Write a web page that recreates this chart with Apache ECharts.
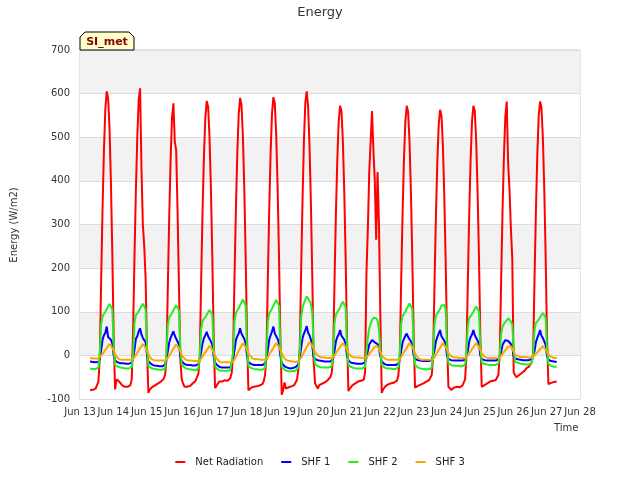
<!DOCTYPE html>
<html><head><meta charset="utf-8">
<script src="https://cdn.jsdelivr.net/npm/echarts@6/dist/echarts.min.js"></script>
<style>html,body{margin:0;padding:0;background:#fff}#c{width:640px;height:480px}</style>
</head><body><div id="c"></div>
<script>
const seriesNames = ['Net Radiation', 'SHF 1', 'SHF 2', 'SHF 3'];
const seriesColors = ['#ff0000', '#0000ff', '#22ee22', '#ffa500'];
const yTicks = [-100, 0, 100, 200, 300, 400, 500, 600, 700];
const xStartDay = Date.UTC(2020, 5, 13);
const xEndDay = Date.UTC(2020, 5, 28);
const dataStart = Date.UTC(2020, 5, 13, 7, 15);
const stepMs = 3600000; // hourly samples, rows below run 07:00 -> 06:00

const netRadiation = [
-80,-79,-79,-78,-76,-72,-60, -5,175,340,472,565,605,590,520,398,238,40, -78,-55,-52,-60,-64,-68,
-72,-72,-73,-72,-70,-68,-55, 60,230,380,500,585,612,430,300,250,175,10, -86,-78,-74,-72,-70,-68,
-66,-64,-62,-60,-57,-54,-45, -10,160,320,450,545,578,490,470,330,160,-10, -55,-65,-72,-70,-72,-68,
-70,-66,-64,-62,-58,-55,-42, 0,175,332,458,545,583,570,500,385,228,40, -75,-72,-65,-60,-62,-60,
-58,-57,-56,-58,-55,-52,-40, 5,180,335,462,552,590,575,505,388,230,42, -80,-78,-74,-72,-72,-72,
-71,-70,-69,-68,-66,-60,-45, 0,178,336,465,555,592,578,508,390,232,44, -90,-80,-62,-76,-75,-73,
-72,-71,-70,-68,-62,-56,-30, 20,200,360,495,580,605,570,480,350,180,-15, -64,-70,-76,-68,-66,-65,
-64,-62,-60,-57,-54,-50,-40, -5,170,325,448,535,572,560,492,378,225,40, -82,-76,-72,-68,-65,-64,
-62,-60,-60,-58,-57,-56,-40, 190,290,420,490,560,470,400,265,420,300,90, -86,-78,-74,-70,-68,-66,
-65,-64,-64,-62,-60,-58,-45, 0,172,326,450,536,572,558,490,376,224,42, -74,-72,-70,-68,-67,-66,
-64,-62,-60,-58,-57,-56,-45, -5,165,318,442,528,563,550,484,370,220,40, -72,-75,-79,-77,-74,-73,
-72,-72,-73,-72,-70,-68,-55, 0,170,325,450,537,572,560,492,378,226,42, -72,-70,-68,-66,-64,-62,
-60,-60,-58,-57,-57,-56,-45, 5,178,335,460,548,582,440,380,290,220,-40, -45,-50,-48,-45,-42,-40,
-38,-35,-30,-28,-26,-25,-15, 0,175,330,458,548,582,568,500,385,230,42, -66,-64,-63,-62,-61,-60,
-60
];

const shf1 = [
-14,-15,-15,-15,-16,-16,-15, -8,12,36,46,52,66,42,44,36,28,0, -12,-15,-16,-17,-18,-18,
-18,-19,-19,-19,-19,-19,-17, -6,14,38,44,55,62,48,40,35,30,2, -14,-18,-20,-22,-23,-24,
-24,-24,-25,-25,-25,-24,-21, -8,10,30,40,48,55,45,38,35,25,-2, -14,-18,-20,-21,-22,-22,
-22,-23,-23,-23,-23,-22,-20, -9,8,28,40,46,54,44,40,32,24,-3, -16,-21,-24,-26,-27,-28,
-28,-28,-28,-28,-28,-27,-24, -8,12,35,44,50,62,50,46,38,28,0, -15,-18,-20,-21,-22,-22,
-22,-22,-22,-22,-22,-21,-19, -8,12,36,46,55,66,50,44,38,28,0, -18,-22,-25,-27,-28,-29,
-30,-30,-29,-28,-27,-26,-20, -4,18,40,50,58,67,52,46,36,22,-5, -8,-10,-11,-12,-13,-13,
-13,-14,-14,-14,-14,-14,-12, -8,10,32,42,48,58,45,42,36,26,0, -12,-15,-17,-18,-18,-19,
-19,-19,-19,-19,-19,-18,-16, -5,10,25,30,35,39,30,28,26,18,-2, -14,-18,-20,-21,-22,-22,
-22,-22,-22,-22,-22,-21,-19, -7,10,30,38,45,50,42,38,32,24,0, -8,-10,-11,-12,-12,-13,
-13,-13,-13,-13,-13,-12,-10, -6,12,32,42,50,58,44,40,34,26,0, -8,-10,-11,-11,-12,-12,
-12,-12,-12,-12,-12,-12,-10, -7,10,32,42,48,58,46,42,34,26,0, -8,-10,-11,-11,-12,-12,
-12,-12,-12,-12,-12,-11,-9, -6,8,24,30,35,39,33,30,26,20,-2, -7,-8,-9,-10,-10,-11,
-11,-11,-11,-11,-11,-10,-8, -6,10,30,40,48,58,45,40,32,24,0, -10,-12,-13,-14,-14,-15,
-15
];

const shf2 = [
-30,-30,-31,-31,-31,-31,-28, 5,71,90,95,100,106,112,118,114,106,20, -22,-25,-26,-27,-28,-28,
-29,-29,-30,-30,-30,-30,-27, 8,75,92,96,101,107,113,118,113,105,18, -24,-27,-29,-30,-31,-32,
-32,-32,-33,-33,-33,-33,-30, 5,70,87,92,97,103,109,115,111,103,18, -22,-26,-28,-30,-31,-32,
-32,-33,-33,-33,-34,-34,-30, 3,62,79,83,88,93,99,104,100,93,15, -25,-30,-33,-34,-35,-35,
-35,-35,-35,-35,-35,-34,-31, 6,78,97,103,108,115,121,128,124,115,22, -24,-27,-29,-30,-31,-32,
-32,-32,-33,-33,-33,-32,-28, 6,77,96,102,107,114,120,127,123,114,22, -26,-30,-33,-35,-36,-37,
-37,-37,-36,-36,-35,-34,-28, 10,88,110,120,128,135,130,125,118,100,10, -20,-23,-25,-26,-27,-27,
-28,-28,-28,-28,-28,-27,-24, 5,74,93,99,104,110,117,123,119,110,20, -22,-25,-27,-28,-29,-29,
-30,-30,-30,-30,-30,-29,-26, 10,40,62,72,80,86,89,85,80,60,12, -22,-26,-28,-29,-30,-30,
-30,-31,-31,-31,-31,-30,-27, 5,72,90,95,100,107,113,119,115,107,20, -22,-26,-28,-29,-30,-31,
-31,-32,-32,-32,-32,-31,-28, 4,70,91,96,101,106,114,118,116,106,19, -18,-21,-22,-23,-24,-24,
-24,-25,-25,-25,-25,-24,-21, 5,68,85,90,95,100,106,112,108,100,18, -16,-18,-20,-21,-21,-22,
-22,-22,-22,-22,-22,-21,-18, 4,50,66,72,76,80,85,82,78,70,12, -14,-16,-17,-18,-19,-20,
-20,-20,-21,-21,-21,-20,-17, 4,58,74,78,82,87,92,97,94,87,16, -20,-23,-24,-25,-26,-26,
-26
];

const shf3 = [
-6,-6,-7,-7,-7,-7,-7, -6,-1,3,8,12,17,21,26,23,17,10, 3,-3,-7,-9,-10,-10,
-10,-10,-10,-10,-10,-10,-10, -9,-4,1,6,11,16,21,26,23,17,10, 3,-3,-8,-10,-11,-12,
-12,-12,-12,-12,-12,-12,-12, -11,-6,-1,4,10,15,20,25,22,16,9, 2,-4,-8,-10,-11,-12,
-12,-12,-13,-13,-13,-13,-13, -12,-7,-2,3,7,12,17,22,19,13,6, -1,-7,-11,-14,-15,-16,
-16,-16,-16,-16,-16,-16,-16, -15,-9,-3,3,10,16,22,28,25,19,12, 5,0,-4,-7,-8,-9,
-9,-9,-10,-10,-10,-10,-10, -9,-4,2,7,12,17,23,28,25,19,12, 5,-2,-7,-10,-12,-13,
-13,-14,-14,-15,-15,-14,-13, -11,-5,1,7,13,19,25,31,28,22,15, 8,3,0,-3,-4,-5,
-5,-5,-5,-6,-6,-6,-6, -5,0,5,9,14,19,23,28,25,19,12, 5,1,-2,-4,-5,-5,
-5,-5,-5,-6,-6,-6,-6, -5,-1,3,7,12,16,20,24,21,15,8, 1,-4,-7,-9,-10,-10,
-10,-10,-10,-10,-10,-10,-10, -9,-4,2,7,12,17,23,28,25,19,12, 5,-1,-5,-8,-9,-10,
-10,-10,-10,-10,-10,-10,-10, -9,-4,2,7,12,17,23,28,25,19,12, 5,1,-2,-4,-5,-5,
-5,-5,-6,-6,-6,-6,-6, -5,0,5,9,14,19,23,28,25,19,12, 5,0,-3,-5,-6,-6,
-6,-6,-6,-6,-6,-6,-6, -5,-1,3,7,12,16,20,24,21,15,8, 2,0,-2,-3,-4,-4,
-4,-4,-4,-4,-5,-5,-5, -4,0,3,7,10,14,17,21,19,14,8, 2,-1,-3,-5,-6,-6,
-6
];

const seriesValues = [netRadiation, shf1, shf2, shf3];
const monthNames = ['Jan','Feb','Mar','Apr','May','Jun','Jul','Aug','Sep','Oct','Nov','Dec'];
const FONT = 'DejaVu Sans';

function toPairs(arr) { return arr.map((v, i) => [dataStart + i * stepMs, v]); }

const chart = echarts.init(document.getElementById('c'), null, { renderer: 'canvas' });
chart.setOption({
  animation: false,
  backgroundColor: '#ffffff',
  title: {
    text: 'Energy', left: 'center', top: 1,
    textStyle: { fontSize: 13, fontWeight: 'normal', color: '#333333', fontFamily: FONT }
  },
  grid: { left: 80, right: 60, top: 50, bottom: 81, show: true, borderColor: '#cccccc', borderWidth: 1 },
  xAxis: {
    type: 'value', min: xStartDay, max: xEndDay, interval: 86400000,
    axisLine: { show: false }, axisTick: { show: false }, splitLine: { show: false },
    axisLabel: {
      margin: 8, fontSize: 10, color: '#333333', fontFamily: FONT,
      formatter: v => { const d = new Date(v); return monthNames[d.getUTCMonth()] + ' ' + d.getUTCDate(); }
    }
  },
  yAxis: {
    type: 'value', min: yTicks[0], max: yTicks[yTicks.length - 1], interval: 100,
    axisLine: { show: false }, axisTick: { show: false },
    splitLine: { show: true, lineStyle: { color: '#dcdcdc', width: 1 } },
    splitArea: { show: true, areaStyle: { color: ['#ffffff', '#f2f2f2'] } },
    axisLabel: { margin: 10, fontSize: 10, color: '#333333', fontFamily: FONT }
  },
  legend: {
    top: 452, left: 'center', icon: 'rect', itemWidth: 10, itemHeight: 2, itemGap: 18,
    textStyle: { fontSize: 10, color: '#222222', fontFamily: FONT, padding: [0, 0, 0, 5] },
    data: seriesNames
  },
  series: seriesNames.map((name, k) => ({
    name, type: 'line', data: toPairs(seriesValues[k]), showSymbol: false, symbol: 'none',
    lineStyle: { color: seriesColors[k], width: 2 }, itemStyle: { color: seriesColors[k] },
    z: 2 + k
  })),
  graphic: [
    { type: 'text', left: 554, top: 423, style: { text: 'Time', fill: '#333333', font: '10px "DejaVu Sans"' } },
    { type: 'text', x: 14, y: 225, rotation: Math.PI / 2,
      style: { text: 'Energy (W/m2)', fill: '#333333', font: '10px "DejaVu Sans"', align: 'center', verticalAlign: 'middle' } },
    { type: 'polygon', z: 100,
      shape: { points: [[80, 50], [80, 37], [85, 32], [129, 32], [134, 37], [134, 50]] },
      style: { fill: '#ffffcc', stroke: '#000000', lineWidth: 1 } },
    { type: 'text', z: 101, x: 107, y: 42,
      style: { text: 'SI_met', fill: '#8b0000', font: 'bold 11px "DejaVu Sans"', align: 'center', verticalAlign: 'middle' } }
  ]
});
</script>
</body></html>
